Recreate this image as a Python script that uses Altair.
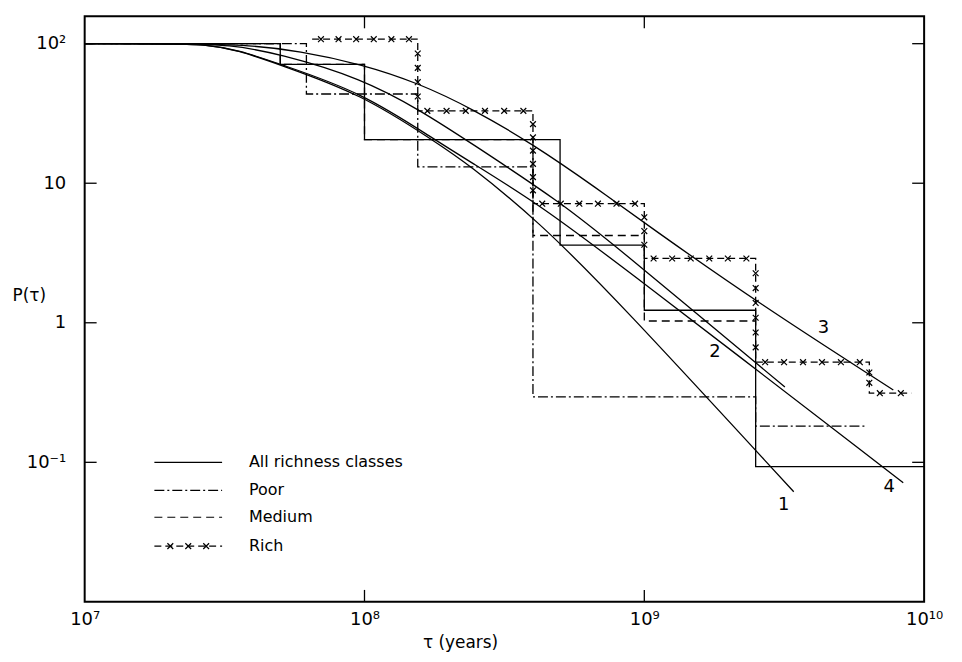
import altair as alt
import numpy as np
import pandas as pd

# ---------------- data ----------------
# histogram steps: bin edges (years) and P(tau) in each bin
all_edges = [1e7, 5e7, 1e8, 5e8, 1e9, 2.5e9, 1e10]
all_vals = [100, 71, 20.5, 3.6, 1.23, 0.093]

poor_edges = [1e7, 6.2e7, 1.55e8, 4e8, 2.5e9, 6.2e9]
poor_vals = [100, 43.6, 13.1, 0.294, 0.182]

medium_edges = [1e7, 5e7, 1e8, 4e8, 1e9, 2.5e9]
medium_vals = [100, 71, 20.5, 4.22, 1.03]

rich_edges = [6.5e7, 1.55e8, 4e8, 1e9, 2.5e9, 6.37e9, 9e9]
rich_vals = [107.7, 33, 7.14, 2.89, 0.522, 0.313]

# model curves 1-4
c1_t = [1e7, 2e7, 2.67e7, 3.56e7, 4.94e7, 9.75e7, 1.79e8, 2.34e8, 4.16e8, 8.02e8, 3.42e9]
c1_p = [100, 100, 99, 89.5, 71.0, 43.6, 19.8, 13.8, 5.40, 1.45, 0.0615]
c2_t = [1e7, 2.2e7, 3.28e7, 4.94e7, 9.75e7, 1.6e8, 2.34e8, 5.11e8, 8.02e8, 3.18e9]
c2_p = [100, 100, 98.4, 85.0, 56.5, 32.9, 20.1, 7.14, 3.46, 0.346]
c3_t = [1e7, 2.5e7, 3.86e7, 5.82e7, 9.75e7, 1.56e8, 2.44e8, 3.99e8, 6.8e8, 1.03e9, 2.56e9, 7.76e9]
c3_p = [100, 100, 97.6, 89.0, 71.4, 52.2, 34.0, 19.1, 9.14, 4.97, 1.38, 0.33]
c4_t = [1e7, 2e7, 2.67e7, 3.56e7, 4.94e7, 9.75e7, 1.79e8, 2.34e8, 4.16e8, 8.02e8, 8.42e9]
c4_p = [100, 100, 99, 90, 71.8, 45.0, 20.4, 14.6, 7.14, 2.70, 0.0714]

# curve number annotations
lab_text = ["1", "2", "3", "4"]
lab_t = [3.15e9, 1.79e9, 4.37e9, 7.5e9]
lab_p = [0.0497, 0.615, 0.914, 0.0668]

# axis ticks / labels
x_ticks = [1e7, 1e8, 1e9, 1e10]
x_labels = ["10⁷", "10⁸", "10⁹", "10¹⁰"]
y_ticks = [0.1, 1, 10, 100]
y_labels = ["10⁻¹", "1", "10", "10²"]

legend_labels = ["All richness classes", "Poor", "Medium", "Rich"]

# ---------------- helpers ----------------
W, H = 843, 588
FONT = "DejaVu Sans"
xs = alt.Scale(type="log", domain=[1e7, 1e10], nice=False)
ys = alt.Scale(type="log", domain=[0.01, 157], nice=False)


def lab_expr(vals, labs):
    parts = [f"datum.value == {v} ? '{l}'" for v, l in zip(vals, labs)]
    return " : ".join(parts) + " : ''"


X = alt.X("t:Q", scale=xs, axis=alt.Axis(
    values=x_ticks, labelExpr=lab_expr(x_ticks, x_labels), ticks=False, domain=False,
    grid=False, labelFlush=False, labelOverlap=False, labelFontSize=18, labelPadding=9,
    labelFont=FONT, labelColor="black", title="τ (years)", titleFont=FONT,
    titleFontSize=17, titleFontWeight="normal", titleColor="black",
    titleX=377, titleY=41, titleBaseline="middle"))
Y = alt.Y("P:Q", scale=ys, axis=alt.Axis(
    values=y_ticks, labelExpr=lab_expr(y_ticks, y_labels), ticks=False, domain=False,
    grid=False, labelFlush=False, labelOverlap=False, labelFontSize=18, labelPadding=19,
    labelFont=FONT, labelColor="black", title="P(τ)", titleFont=FONT, titleFontSize=17,
    titleFontWeight="normal", titleColor="black", titleAngle=0, titleAlign="left",
    titleX=-73, titleY=280, titleBaseline="middle"))


def steps(edges, vals):
    return pd.DataFrame({"t": edges, "P": list(vals) + [vals[-1]]})


def step_layer(edges, vals, dash):
    kw = dict(interpolate="step-after", color="black", strokeWidth=1.3)
    if dash:
        kw["strokeDash"] = dash
    return alt.Chart(steps(edges, vals)).mark_line(**kw).encode(x=X, y=Y)


def curve_layer(t, p):
    return alt.Chart(pd.DataFrame({"t": t, "P": p})).mark_line(
        interpolate="basis", color="black", strokeWidth=1.3).encode(x=X, y=Y)


# rich "x" markers along the rich staircase
lx = np.log10(rich_edges)
ly = np.log10(rich_vals)
mk_t, mk_p = [], []
for i in range(len(rich_vals)):
    a, b = lx[i], lx[i + 1]
    n = max(1, int((b - a) / 0.062))
    for k in range(n):
        mk_t.append(10 ** (a + (k + 0.5) * (b - a) / n))
        mk_p.append(rich_vals[i])
    if i + 1 < len(rich_vals):
        d = ly[i] - ly[i + 1]
        m = int(d / 0.11)
        for k in range(m):
            mk_t.append(rich_edges[i + 1])
            mk_p.append(10 ** (ly[i] - (k + 1) * d / (m + 1)))
markers = pd.DataFrame({"t": mk_t, "P": mk_p})
XSHAPE = "M-1,-1L1,1M-1,1L1,-1"
MK = dict(shape=XSHAPE, size=34, color="black", strokeWidth=1.2, filled=False, opacity=1)
rich_marks = alt.Chart(markers).mark_point(**MK).encode(x=X, y=Y)

# inward decade ticks on all four sides
xt = pd.DataFrame({"t": x_ticks[1:-1]})
yt = pd.DataFrame({"P": y_ticks})
ticks = [
    alt.Chart(xt).mark_rule(color="black", strokeWidth=1.3).encode(
        x=X, y=alt.value(0), y2=alt.value(12)),
    alt.Chart(xt).mark_rule(color="black", strokeWidth=1.3).encode(
        x=X, y=alt.value(H - 12), y2=alt.value(H)),
    alt.Chart(yt).mark_rule(color="black", strokeWidth=1.3).encode(
        y=Y, x=alt.value(0), x2=alt.value(12)),
    alt.Chart(yt).mark_rule(color="black", strokeWidth=1.3).encode(
        y=Y, x=alt.value(W - 12), x2=alt.value(W)),
]

labels = alt.Chart(pd.DataFrame({"t": lab_t, "P": lab_p, "lab": lab_text})).mark_text(
    font=FONT, fontSize=18, color="black", align="center", baseline="middle"
).encode(x=X, y=Y, text="lab:N")

# legend (drawn by hand, lower left of the plot)
leg_y = [448, 476, 503, 532]
leg_dash = [None, [10, 3, 2, 3], [8, 5], [7, 4]]
legend = []
for lbl, yy, dash in zip(legend_labels, leg_y, leg_dash):
    kw = dict(color="black", strokeWidth=1.2)
    if dash:
        kw["strokeDash"] = dash
    legend.append(alt.Chart().mark_rule(**kw).encode(
        x=alt.value(70), x2=alt.value(138), y=alt.value(yy)))
    legend.append(alt.Chart().mark_text(
        font=FONT, fontSize=16, color="black", align="left", baseline="middle", text=lbl
    ).encode(x=alt.value(165), y=alt.value(yy)))
for xx in [86, 104, 122]:
    legend.append(alt.Chart().mark_point(**MK).encode(
        x=alt.value(xx), y=alt.value(leg_y[3])))

layers = [
    step_layer(all_edges, all_vals, None),
    step_layer(poor_edges, poor_vals, [10, 3, 2, 3]),
    step_layer(medium_edges, medium_vals, [8, 5]),
    step_layer(rich_edges, rich_vals, [7, 4]),
    rich_marks,
    curve_layer(c1_t, c1_p),
    curve_layer(c2_t, c2_p),
    curve_layer(c3_t, c3_p),
    curve_layer(c4_t, c4_p),
    labels,
] + ticks + legend

chart = alt.layer(*layers).properties(
    width=W, height=H,
    autosize=alt.AutoSizeParams(type="none"),
    padding={"left": 77, "top": 7, "right": 30, "bottom": 58},
    background="white",
).configure_view(stroke="black", strokeWidth=2)

chart.save("out.html", embed_options={"renderer": "svg", "actions": False})
